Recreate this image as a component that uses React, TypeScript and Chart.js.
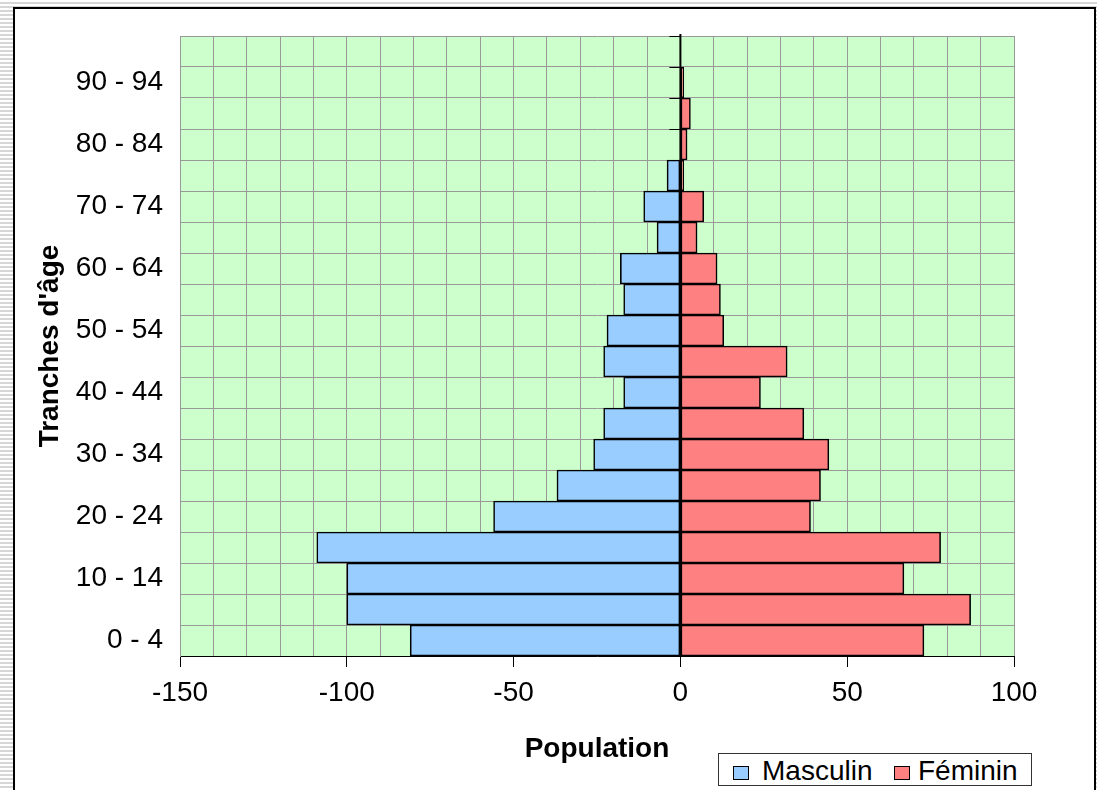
import React, { useEffect, useRef } from 'react';
import { Chart, registerables } from 'chart.js';

Chart.register(...registerables);

// Age groups, bottom (youngest) to top (oldest)
const ageGroups = [
  '0 - 4', '5 - 9', '10 - 14', '15 - 19', '20 - 24', '25 - 29', '30 - 34', '35 - 39',
  '40 - 44', '45 - 49', '50 - 54', '55 - 59', '60 - 64', '65 - 69', '70 - 74', '75 - 79',
  '80 - 84', '85 - 89', '90 - 94', '95 - 99',
];

// Male values are negative (drawn to the left)
const masculin = [-81, -100, -100, -109, -56, -37, -26, -23, -17, -23, -22, -17, -18, -7, -11, -4, 0, 0, 0, 0];
const feminin = [73, 87, 67, 78, 39, 42, 44.5, 37, 24, 32, 13, 12, 11, 5, 7, 1, 2, 3, 1, 0];

const xMin = -150;
const xMax = 100;
const xGridStep = 10;
const xLabelStep = 50;

const seriesNames = ['Masculin', 'Féminin'];
const seriesColors = ['#99CCFF', '#FF8080'];

const FONT = '"Liberation Sans", Arial, Helvetica, sans-serif';

export default function App() {
  const ref = useRef<HTMLCanvasElement>(null);

  useEffect(() => {
    if (!ref.current) return;

    const plotBg = {
      id: 'plotBg',
      beforeDraw(chart: any) {
        const { ctx, chartArea: a } = chart;
        ctx.save();
        ctx.fillStyle = '#CCFFCC';
        ctx.fillRect(a.left, a.top, a.right - a.left, a.bottom - a.top);
        ctx.restore();
      },
    };

    const zeroAxis = {
      id: 'zeroAxis',
      beforeDatasetsDraw(chart: any) {
        const { ctx, scales } = chart;
        const x0 = scales.x.getPixelForValue(0);
        ctx.save();
        ctx.strokeStyle = '#000';
        ctx.lineWidth = 1;
        for (let i = 0; i <= ageGroups.length; i++) {
          const y = Math.round(scales.y.getPixelForValue(i - 0.5)) + 0.5;
          ctx.beginPath();
          ctx.moveTo(x0 - 11, y);
          ctx.lineTo(x0, y);
          ctx.stroke();
        }
        ctx.restore();
      },
      afterDatasetsDraw(chart: any) {
        const { ctx, scales, chartArea: a } = chart;
        const x0 = scales.x.getPixelForValue(0);
        ctx.save();
        ctx.strokeStyle = '#000';
        ctx.lineWidth = 2;
        ctx.beginPath();
        ctx.moveTo(x0, a.top - 2);
        ctx.lineTo(x0, a.bottom);
        ctx.stroke();
        ctx.restore();
      },
    };

    const chart = new Chart(ref.current, {
      type: 'bar',
      data: {
        labels: ageGroups,
        datasets: [
          {
            label: seriesNames[0],
            data: masculin,
            backgroundColor: seriesColors[0],
            borderColor: '#000',
            borderWidth: 1.6,
            borderSkipped: false,
            categoryPercentage: 1,
            barPercentage: 1,
          },
          {
            label: seriesNames[1],
            data: feminin,
            backgroundColor: seriesColors[1],
            borderColor: '#000',
            borderWidth: 1.6,
            borderSkipped: false,
            categoryPercentage: 1,
            barPercentage: 1,
          },
        ],
      },
      options: {
        indexAxis: 'y',
        responsive: false,
        animation: false,
        layout: { padding: { left: 0, right: 79, top: 27, bottom: 24 } },
        plugins: { legend: { display: false }, tooltip: { enabled: false } },
        scales: {
          x: {
            type: 'linear',
            min: xMin,
            max: xMax,
            stacked: true,
            position: 'bottom',
            ticks: {
              stepSize: xGridStep,
              autoSkip: false,
              maxRotation: 0,
              padding: 9,
              color: '#000',
              font: { family: FONT, size: 28 },
              callback: (v: any) => (Number(v) % xLabelStep === 0 ? String(v) : ''),
            },
            grid: {
              color: (c: any) => (c.tick && c.tick.value === 0 ? '#000' : '#999999'),
              lineWidth: 1,
              tickLength: 11,
              tickColor: (c: any) => (c.tick && c.tick.value % xLabelStep === 0 ? '#000' : 'rgba(0,0,0,0)'),
            },
            border: { color: '#000', width: 1 },
            title: {
              display: true,
              text: 'Population',
              color: '#000',
              font: { family: FONT, size: 28, weight: 'bold' },
              padding: { top: 0, bottom: 0 },
            },
            afterFit: (s: any) => {
              s.height = 110;
            },
          },
          y: {
            type: 'category',
            stacked: true,
            reverse: true,
            offset: true,
            grid: { color: '#999999', drawTicks: false, offset: true },
            border: { color: '#999999' },
            ticks: {
              autoSkip: false,
              padding: 17,
              color: '#000',
              font: { family: FONT, size: 28, lineHeight: 0.6 },
              callback: function (this: any, v: any, i: number) {
                return i % 2 === 0 ? this.getLabelForValue(v) : '';
              },
            },
            title: {
              display: true,
              text: "Tranches d'âge",
              color: '#000',
              font: { family: FONT, size: 28, weight: 'bold' },
              padding: { top: 18, bottom: 0 },
            },
            afterFit: (s: any) => {
              s.width = 165;
            },
          },
        },
      },
      plugins: [plotBg, zeroAxis],
    } as any);

    return () => chart.destroy();
  }, []);

  const stripes =
    'repeating-linear-gradient(180deg, #ffffff 0px, #ffffff 2px, #d6d6d6 2px, #d6d6d6 4px)';

  const swatch = (color: string, left: number) => (
    <div
      style={{
        position: 'absolute',
        left,
        top: 766,
        width: 16,
        height: 14,
        boxSizing: 'border-box',
        background: color,
        border: '1.5px solid #000',
      }}
    />
  );

  const legendText = (text: string, left: number) => (
    <div
      style={{
        position: 'absolute',
        left,
        top: 757,
        fontFamily: FONT,
        fontSize: 28,
        lineHeight: '28px',
        color: '#000',
        whiteSpace: 'nowrap',
      }}
    >
      {text}
    </div>
  );

  return (
    <div
      style={{
        position: 'fixed',
        left: 0,
        top: 0,
        width: 1097,
        height: 790,
        overflow: 'hidden',
        background: stripes,
      }}
    >
      <div
        style={{
          position: 'absolute',
          left: 13,
          top: 7,
          width: 1083,
          height: 800,
          boxSizing: 'border-box',
          border: '2px solid #000',
          background: '#fff',
        }}
      >
        <canvas
          ref={ref}
          width={1078}
          height={781}
          style={{ position: 'absolute', left: 0, top: 0, width: 1078, height: 781, display: 'block' }}
        />
      </div>
      <div
        style={{
          position: 'absolute',
          left: 718,
          top: 753,
          width: 314,
          height: 33,
          boxSizing: 'border-box',
          border: '1px solid #333',
          background: '#fff',
        }}
      />
      {swatch(seriesColors[0], 733)}
      {legendText(seriesNames[0], 762)}
      {swatch(seriesColors[1], 894)}
      {legendText(seriesNames[1], 918)}
    </div>
  );
}
